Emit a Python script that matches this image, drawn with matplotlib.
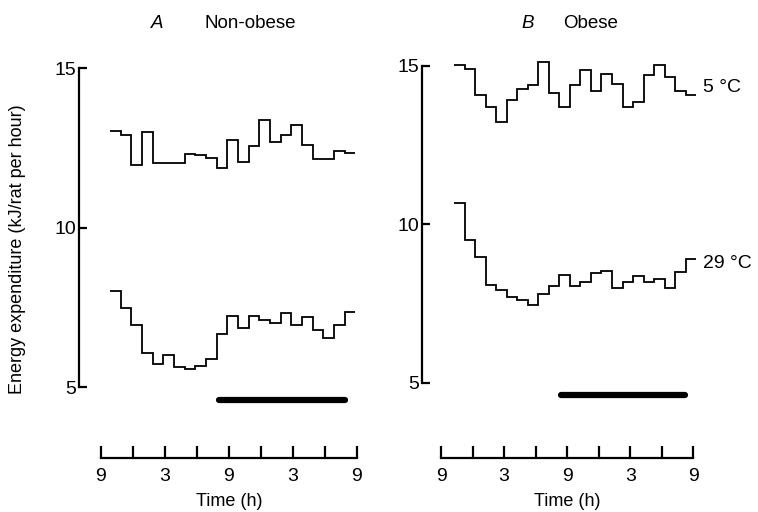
import numpy as np
import matplotlib
matplotlib.use("Agg")
import matplotlib.pyplot as plt

plt.rcParams['font.family'] = ['Liberation Sans', 'DejaVu Sans']

# ---------------- data (hourly means, kJ/rat per hour) ----------------
nonobese_5C = [13.05, 12.90, 11.96, 13.01, 12.02, 12.02, 12.02, 12.30, 12.27, 12.20,
               11.88, 12.75, 12.06, 12.55, 13.38, 12.68, 12.90, 13.21, 12.61, 12.15,
               12.17, 12.40, 12.35]
nonobese_29C = [8.03, 7.48, 6.96, 6.07, 5.74, 6.01, 5.63, 5.58, 5.67, 5.88,
                6.66, 7.24, 6.87, 7.24, 7.11, 7.01, 7.34, 6.94, 7.20, 6.80,
                6.53, 6.96, 7.36]
obese_5C = [15.04, 14.90, 14.07, 13.70, 13.24, 13.94, 14.27, 14.39, 15.13, 14.14,
            13.72, 14.40, 14.87, 14.22, 14.76, 14.42, 13.71, 13.87, 14.72, 15.03,
            14.66, 14.20, 14.09]
obese_29C = [10.66, 9.49, 8.98, 8.08, 7.91, 7.69, 7.60, 7.45, 7.80, 8.05,
             8.39, 8.06, 8.18, 8.47, 8.53, 8.00, 8.18, 8.38, 8.18, 8.27,
             7.99, 8.49, 8.90]
first_hour_A = 0.85      # hours after 09:00 at which the first bin starts
first_hour_B = 1.27
dark_A = (11.1, 22.9)    # dark period (hours after 09:00)
dark_B = (11.4, 23.2)
time_ticks = [0, 6, 12, 18, 24]
time_labels = ['9', '3', '9', '3', '9']
minor_ticks = [3, 9, 15, 21]
y_ticks = [5, 10, 15]
series_labels = ['5 °C', '29 °C']

W, H = 758, 512
fig = plt.figure(figsize=(W / 100, H / 100), dpi=100)


def ax_px(l, b_img, r, t_img):
    """Add axes from image pixel coords (y measured from top)."""
    return fig.add_axes([l / W, (H - b_img) / H, (r - l) / W, (b_img - t_img) / H])


def panel(x0, pph, y5, y15, left, right, s5, s29, start, dark, tl, tr, title_letter, title, tx_letter, tx_title):
    upu = (y5 - y15) / 10.0
    ylo, yhi = 4.4, 15.3
    bpx = y5 + (5 - ylo) * upu
    tpx = y15 - (yhi - 15) * upu
    ax = ax_px(left, bpx, right, tpx)
    ax.set_xlim((left - x0) / pph, (right - x0) / pph)
    ax.set_ylim(ylo, yhi)
    for s in ['top', 'right', 'bottom']:
        ax.spines[s].set_visible(False)
    ax.spines['left'].set_bounds(5, 15)
    ax.spines['left'].set_linewidth(1.6)
    ax.set_xticks([])
    ax.set_yticks(y_ticks)
    ax.set_yticklabels([str(v) for v in y_ticks])
    ax.tick_params(axis='y', direction='in', length=6, width=1.6, pad=2, labelsize=14)
    edges = start + np.arange(len(s5) + 1)
    for s in (s5, s29):
        ax.stairs(s, edges, color='black', lw=1.3, baseline=None)
    ax.plot(dark, [4.6, 4.6], color='black', lw=4.5, solid_capstyle='round', clip_on=False)
    # time axis
    tax = ax_px(tl, 458, tr, 448)
    tax.set_xlim(0, 24)
    tax.set_ylim(0, 1)
    for s in ['top', 'right', 'left']:
        tax.spines[s].set_visible(False)
    tax.spines['bottom'].set_linewidth(1.6)
    tax.set_yticks([])
    tax.set_xticks(time_ticks)
    tax.set_xticklabels(time_labels)
    tax.set_xticks(minor_ticks, minor=True)
    tax.tick_params(axis='x', which='both', direction='in', length=9, width=1.6, pad=7, labelsize=14)
    tax.set_xlabel('Time (h)', fontsize=13, labelpad=6)
    fig.text(tx_letter / W, 1 - 23 / H, title_letter, fontsize=13.5, style='italic', ha='center', va='center')
    fig.text(tx_title / W, 1 - 23 / H, title, fontsize=13.5, ha='left', va='center')
    return ax


axA = panel(101, 10.667, 387.3, 68.3, 79, 362, nonobese_5C, nonobese_29C, first_hour_A, dark_A,
            101, 357, 'A', 'Non-obese', 157, 205)
axB = panel(441, 10.51, 382.5, 66, 422, 700, obese_5C, obese_29C, first_hour_B, dark_B,
            441, 693.3, 'B', 'Obese', 528, 563)

fig.text(703 / W, 1 - 88 / H, series_labels[0], fontsize=14, ha='left', va='center')
fig.text(703 / W, 1 - 263 / H, series_labels[1], fontsize=14, ha='left', va='center')
fig.text(18 / W, 1 - 249 / H, 'Energy expenditure (kJ/rat per hour)', fontsize=13,
         rotation=90, ha='center', va='center')

fig.savefig('out.png', dpi=100)
